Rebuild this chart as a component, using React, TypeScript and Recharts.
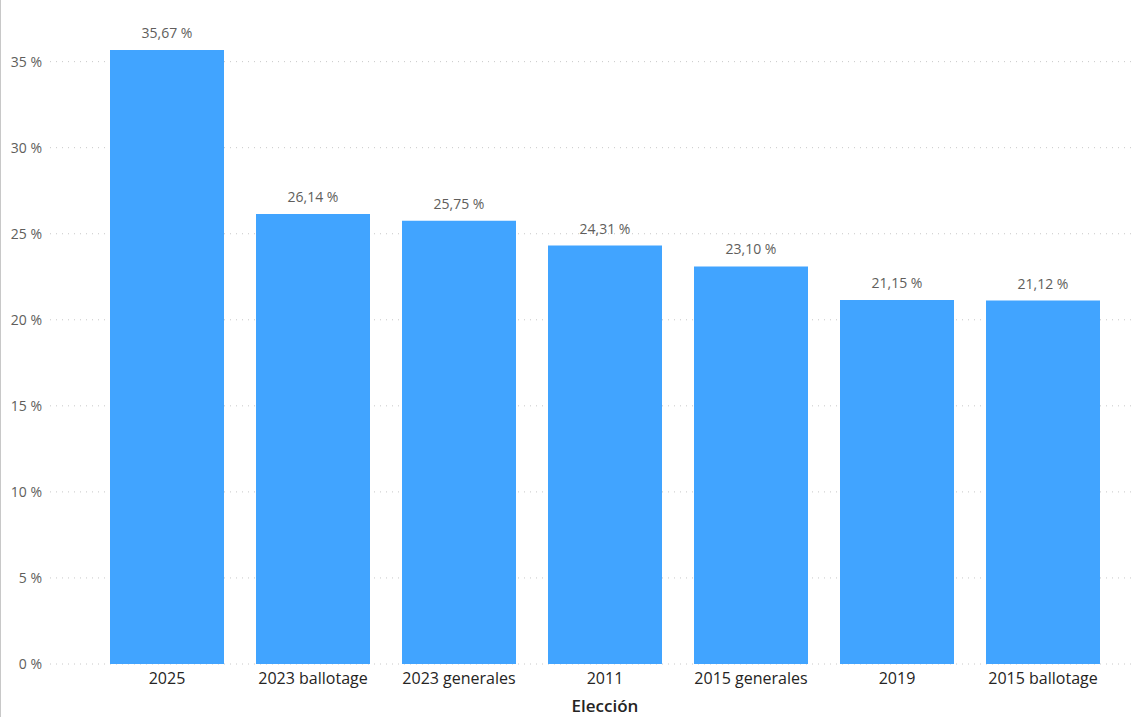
import { Bar, BarChart, CartesianGrid, LabelList, XAxis, YAxis } from "recharts";

const elecciones = [
  "2025",
  "2023 ballotage",
  "2023 generales",
  "2011",
  "2015 generales",
  "2019",
  "2015 ballotage",
];
const porcentajes = [35.67, 26.14, 25.75, 24.31, 23.1, 21.15, 21.12];
const yTicks = [0, 5, 10, 15, 20, 25, 30, 35];

const data = elecciones.map((eleccion, i) => ({
  eleccion,
  valor: porcentajes[i],
}));

const font = "'Segoe UI', 'Open Sans', 'Noto Sans', sans-serif";

const fmt = (v: number) => `${v.toFixed(2).replace(".", ",")} %`;

export default function App() {
  return (
    <div
      style={{
        position: "absolute",
        left: 0,
        top: 0,
        width: 1134,
        height: 717,
        background: "#fff",
        fontFamily: font,
      }}
    >
      <div
        style={{
          position: "absolute",
          left: 0,
          top: 0,
          width: 1,
          height: 717,
          background: "#c8c8c8",
        }}
      />
      <BarChart
        width={1134}
        height={717}
        data={data}
        margin={{ top: 10, right: 0, bottom: 0, left: 0 }}
        barSize={114}
      >
        <CartesianGrid
          vertical={false}
          horizontalValues={yTicks}
          stroke="#c8c8c8"
          strokeDasharray="1 5"
        />
        <XAxis
          dataKey="eleccion"
          height={53}
          padding={{ left: 44, right: 18 }}
          axisLine={false}
          tickLine={false}
          tick={{ fill: "#252423", fontSize: 16, fontFamily: font }}
          tickMargin={3}
          interval={0}
          label={{
            value: "Elección",
            position: "insideBottom",
            offset: 5,
            dx: 13,
            fill: "#252423",
            fontSize: 17,
            fontWeight: 600,
            fontFamily: font,
          }}
        />
        <YAxis
          width={50}
          domain={[0, 38]}
          ticks={yTicks}
          axisLine={false}
          tickLine={false}
          tick={{ fill: "#605E5C", fontSize: 14, fontFamily: font }}
          tickFormatter={(v) => `${v} %`}
        />
        <Bar dataKey="valor" fill="#41A4FF" isAnimationActive={false}>
          <LabelList
            dataKey="valor"
            position="top"
            offset={12}
            formatter={(v: any) => fmt(Number(v))}
            style={{ fill: "#605E5C", fontSize: 14, fontFamily: font }}
          />
        </Bar>
      </BarChart>
    </div>
  );
}
